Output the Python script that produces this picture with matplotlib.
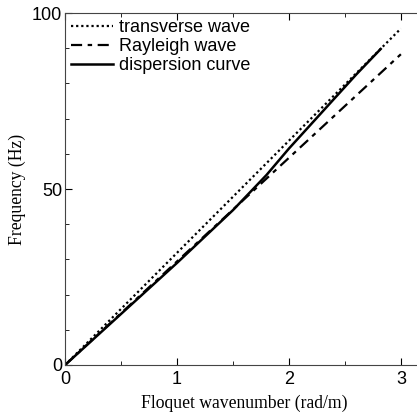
import numpy as np
import matplotlib.pyplot as plt
from matplotlib.ticker import MultipleLocator

# datos
k_lines = [0, 3.0]
transverse = [0, 95.6]
rayleigh = [0, 88.3]

k_disp = [0, 0.5, 1.0, 1.5, 1.8, 2.0, 2.2, 2.4, 2.6, 2.82]
f_disp = [0, 14.5, 29.0, 44.0, 54.0, 61.5, 68.5, 75.5, 82.5, 89.8]

sans = ['Liberation Sans', 'DejaVu Sans']
serif = ['Liberation Serif', 'DejaVu Serif']

fig = plt.figure(figsize=(4.17, 4.16), dpi=100)
ax = fig.add_axes([0.156, 0.1226, 0.859, 0.846])

ax.plot(k_lines, transverse, color='black', linestyle=(0, (1, 1.3)), lw=1.6, label='transverse wave')
ax.plot(k_lines, rayleigh, color='black', linestyle=(0, (5, 2.5, 2, 2.5)), lw=1.6, label='Rayleigh wave')
ax.plot(k_disp, f_disp, color='black', linestyle='-', lw=1.8, label='dispersion curve')

ax.set_xlim(0, 3.2)
ax.set_ylim(0, 100)
ax.xaxis.set_major_locator(MultipleLocator(1))
ax.xaxis.set_minor_locator(MultipleLocator(0.5))
ax.yaxis.set_major_locator(MultipleLocator(50))
ax.yaxis.set_minor_locator(MultipleLocator(10))
ax.tick_params(which='both', direction='in', top=True, right=False, labelsize=13, pad=2)
ax.tick_params(axis='x', pad=4)
ax.tick_params(which='major', length=5)
ax.tick_params(which='minor', length=3)
for lab in ax.get_xticklabels() + ax.get_yticklabels():
    lab.set_family(sans)
for s in ax.spines.values():
    s.set_color('#444444')
ax.spines['right'].set_visible(False)

ax.set_xlabel('Floquet wavenumber (rad/m)', family=serif, fontsize=12.7, labelpad=5)
ax.set_ylabel('Frequency (Hz)', family=serif, fontsize=12.7, labelpad=4)

ax.legend(loc='upper left', frameon=False, prop={'family': sans, 'size': 13},
          handlelength=2.3, handletextpad=0.35, borderaxespad=0.15, labelspacing=0.1,
          borderpad=0.2)

plt.savefig('out.png', dpi=100)
